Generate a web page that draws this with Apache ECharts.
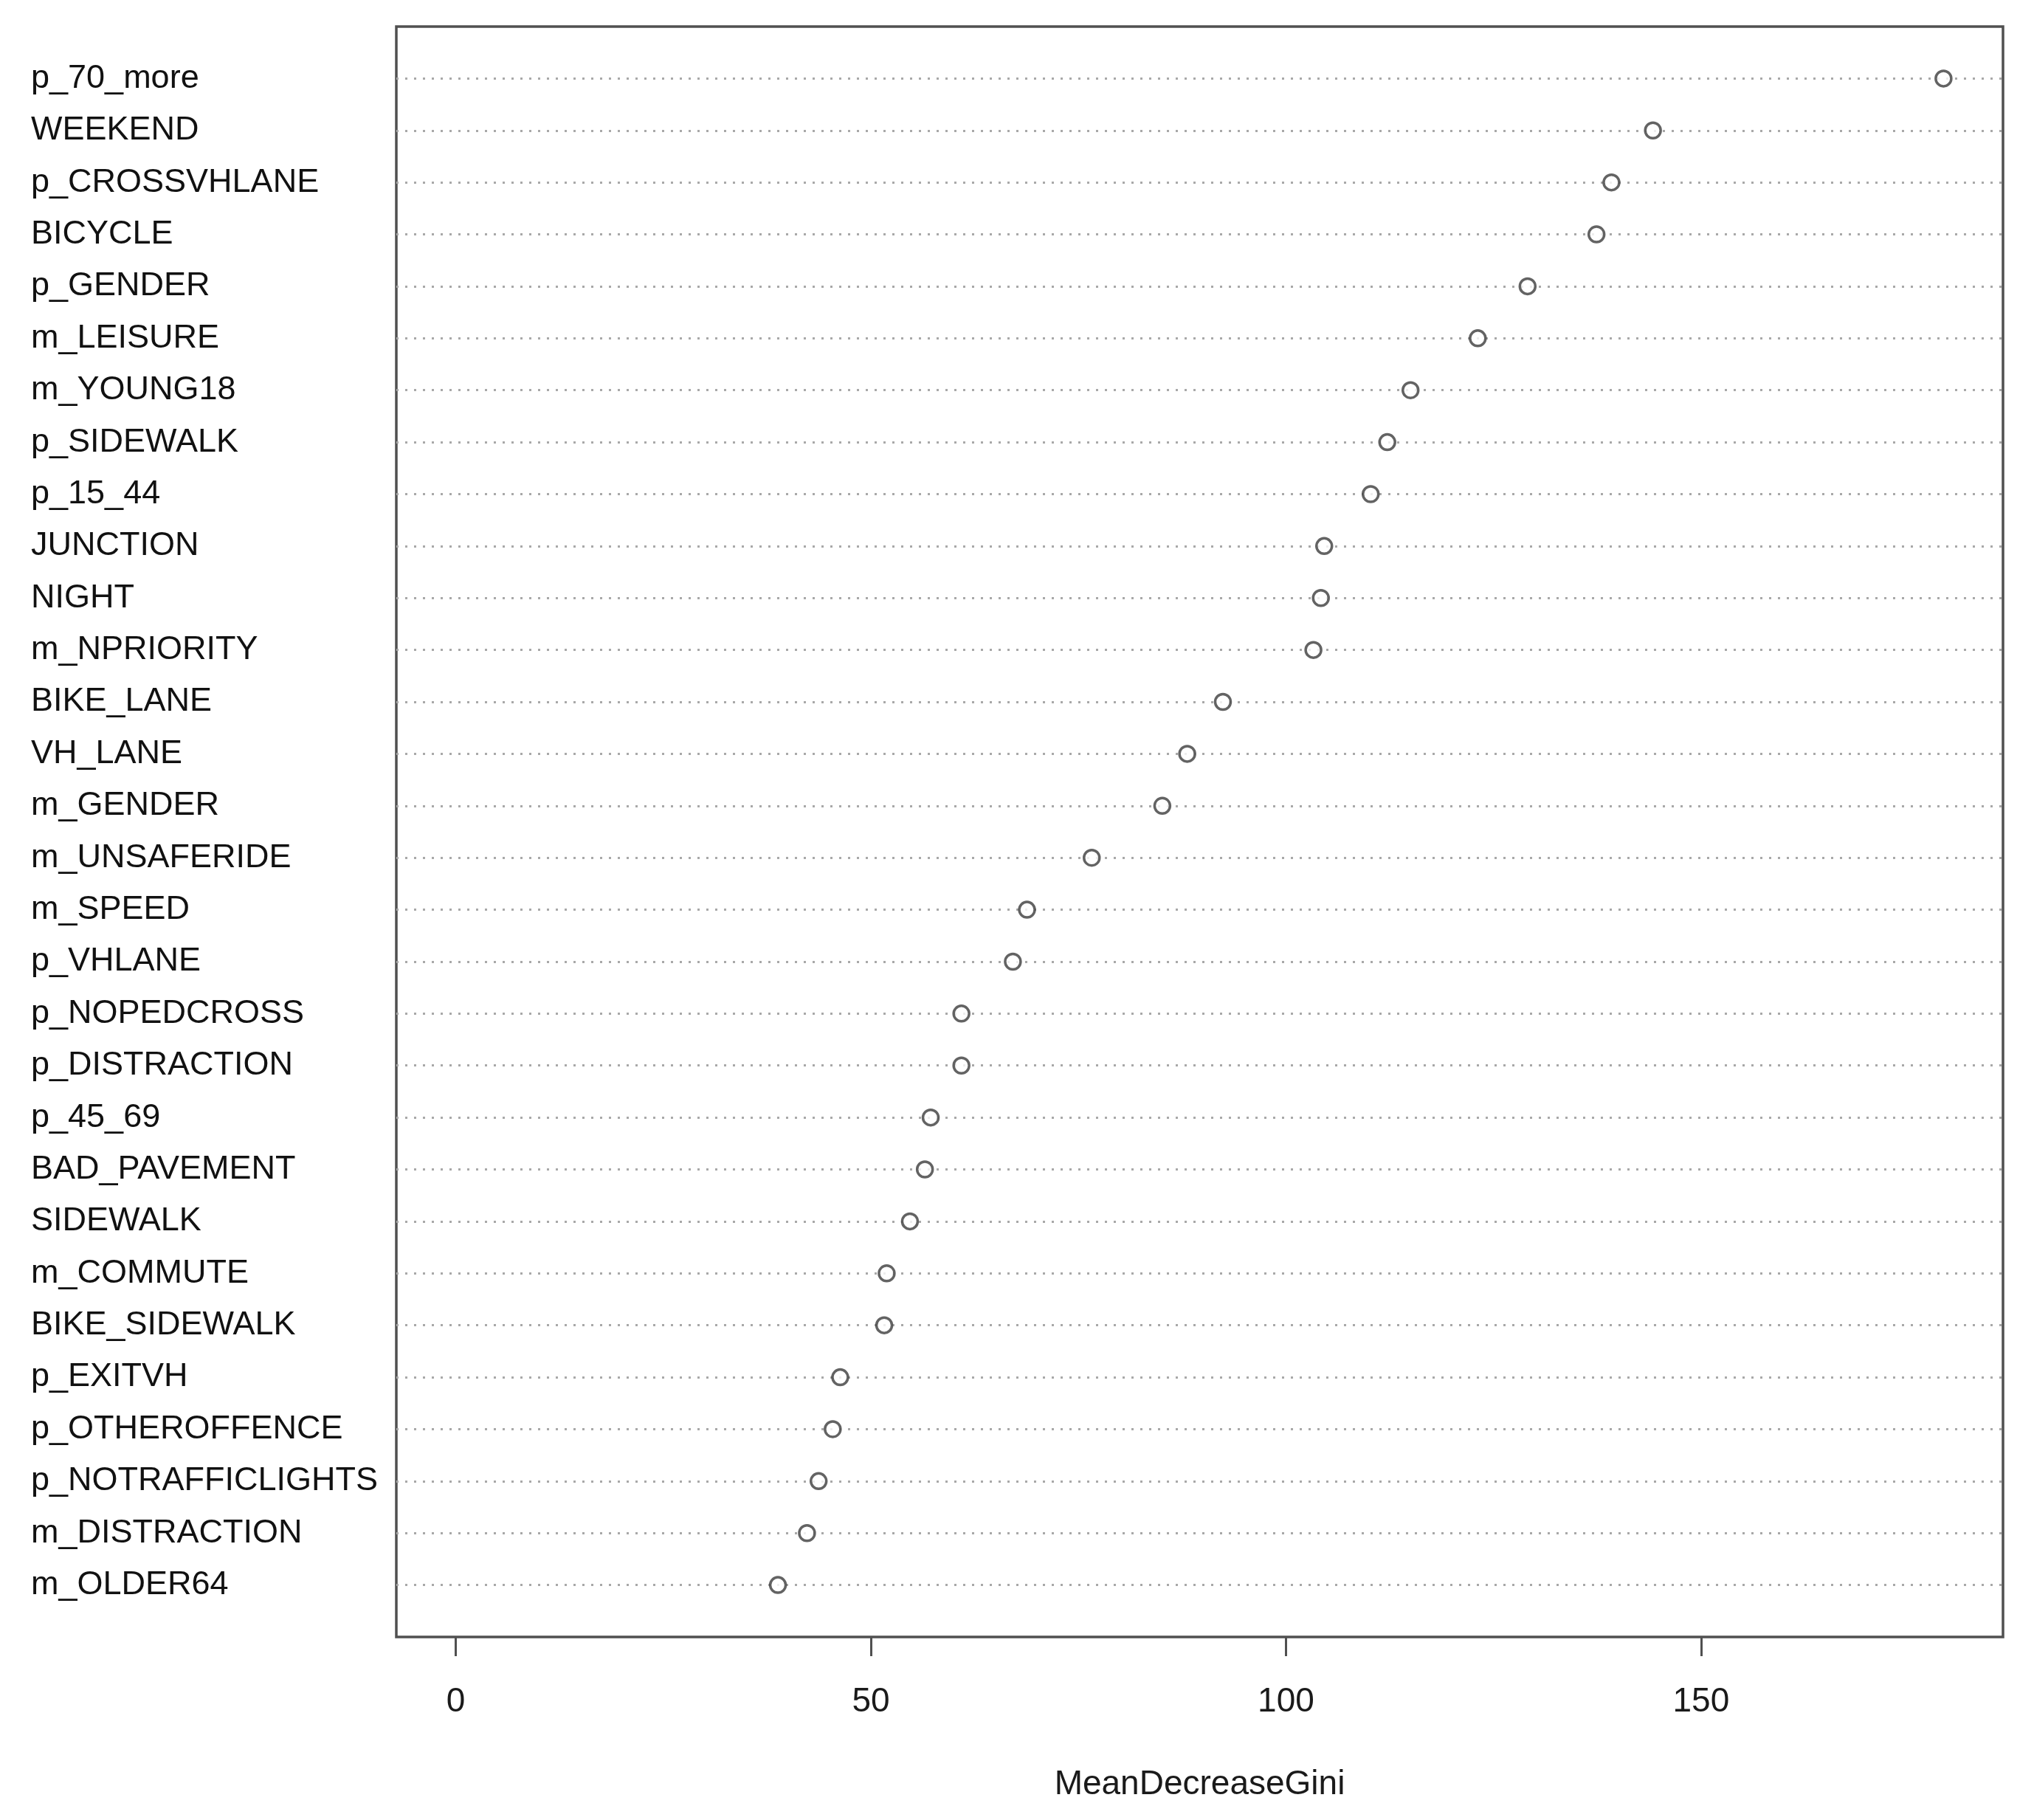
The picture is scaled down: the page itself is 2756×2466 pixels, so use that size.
<!DOCTYPE html>
<html>
<head>
<meta charset="utf-8">
<script src="https://cdn.jsdelivr.net/npm/echarts@6/dist/echarts.min.js"></script>
<style>
html,body{margin:0;padding:0;background:#fff;}
#chart{width:2756px;height:2466px;}
</style>
</head>
<body>
<div id="chart"></div>
<script>
// Variables, listed top to bottom as in the chart
const categories = [
  "p_70_more","WEEKEND","p_CROSSVHLANE","BICYCLE","p_GENDER","m_LEISURE",
  "m_YOUNG18","p_SIDEWALK","p_15_44","JUNCTION","NIGHT","m_NPRIORITY",
  "BIKE_LANE","VH_LANE","m_GENDER","m_UNSAFERIDE","m_SPEED","p_VHLANE",
  "p_NOPEDCROSS","p_DISTRACTION","p_45_69","BAD_PAVEMENT","SIDEWALK",
  "m_COMMUTE","BIKE_SIDEWALK","p_EXITVH","p_OTHEROFFENCE","p_NOTRAFFICLIGHTS",
  "m_DISTRACTION","m_OLDER64"
];
// MeanDecreaseGini values
const giniValues = [
  179.2,144.2,139.2,137.4,129.1,123.1,
  115.0,112.2,110.2,104.6,104.2,103.3,
  92.4,88.1,85.1,76.6,68.8,67.1,
  60.9,60.9,57.2,56.5,54.7,
  51.9,51.6,46.3,45.4,43.7,
  42.3,38.8
];
const xTickValues = [0, 50, 100, 150];
const xAxisTitle = "MeanDecreaseGini";

const n = categories.length;
const xMax = Math.max(...giniValues);
const xMin = 0;
const pad = 0.04 * (xMax - xMin);

// y axis slots: empty slot at bottom (0) and top (n+1), like dotchart's ylim c(0, n+1)
const yAxisData = [''].concat(categories.slice().reverse(), ['']);
const seriesData = giniValues.map((v, i) => [v, n - i]);
const FONT = "'Liberation Sans', Arial, Helvetica, sans-serif";

const chart = echarts.init(document.getElementById('chart'), null, {renderer: 'canvas'});
chart.setOption({
  backgroundColor: '#ffffff',
  animation: false,
  grid: {
    left: 537, right: 42, top: 36, bottom: 248,
    show: true, borderColor: '#505050', borderWidth: 3.5, backgroundColor: 'transparent'
  },
  xAxis: {
    type: 'value',
    min: xMin - pad,
    max: xMax + pad,
    axisLine: {show: false},
    splitLine: {show: false},
    axisTick: {
      show: true, length: 26, inside: false,
      customValues: xTickValues,
      lineStyle: {color: '#505050', width: 3}
    },
    axisLabel: {
      show: true, customValues: xTickValues,
      margin: 65, fontSize: 46, color: '#1a1a1a', fontFamily: FONT,
      formatter: v => String(Math.round(v))
    },
    name: xAxisTitle,
    nameLocation: 'middle',
    nameGap: 177,
    nameTextStyle: {fontSize: 46, color: '#1a1a1a', fontFamily: FONT}
  },
  yAxis: {
    type: 'category',
    data: yAxisData,
    boundaryGap: false,
    axisLine: {show: false},
    axisTick: {show: false},
    splitLine: {
      show: true,
      interval: (idx) => idx > 0 && idx <= n,
      lineStyle: {color: '#a8a8a8', width: 3, type: [3, 9]}
    },
    axisLabel: {
      show: true, interval: 0, align: 'left', margin: 495,
      padding: [12, 0, 0, 0],
      fontSize: 45, color: '#111', fontFamily: FONT
    }
  },
  series: [{
    type: 'scatter',
    data: seriesData,
    symbol: 'circle',
    symbolSize: 21,
    itemStyle: {color: '#ffffff', borderColor: '#3c3c3c', borderWidth: 3.5},
    z: 5
  }]
});
</script>
</body>
</html>
